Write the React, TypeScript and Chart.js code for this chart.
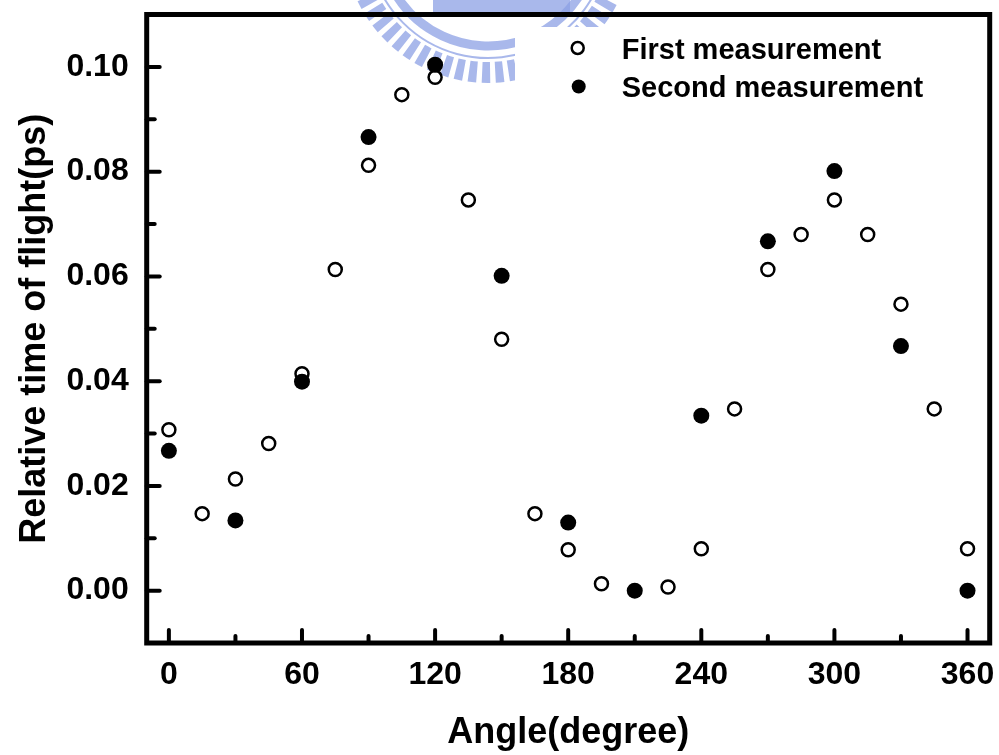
import React, { useEffect, useRef } from "react";
import { Chart, registerables } from "chart.js";

Chart.register(...registerables);

// ---- data ----
const firstAngles = [0, 15, 30, 45, 60, 75, 90, 105, 120, 135, 150, 165, 180, 195, 225, 240, 255, 270, 285, 300, 315, 330, 345, 360];
const firstValues = [0.0307, 0.0147, 0.0213, 0.0281, 0.0414, 0.0613, 0.0812, 0.0947, 0.098, 0.0746, 0.048, 0.0147, 0.0078, 0.0013, 0.0007, 0.008, 0.0347, 0.0613, 0.068, 0.0746, 0.068, 0.0547, 0.0347, 0.008];

const secondAngles = [0, 30, 60, 90, 120, 150, 180, 210, 240, 270, 300, 330, 360];
const secondValues = [0.0267, 0.0134, 0.0399, 0.0866, 0.1004, 0.0601, 0.013, 0.0, 0.0334, 0.0667, 0.0801, 0.0467, 0.0];

const seriesLabels = ["First measurement", "Second measurement"];

const xMajorTicks = [0, 60, 120, 180, 240, 300, 360];
const xMinorTicks = [30, 90, 150, 210, 270, 330];
const yMajorTicks = [0, 0.02, 0.04, 0.06, 0.08, 0.1];
const yMinorTicks = [0.01, 0.03, 0.05, 0.07, 0.09];

const xTitle = "Angle(degree)";
const yTitle = "Relative time of flight(ps)";

const FONT = "'Liberation Sans', Arial, Helvetica, sans-serif";

const watermarkPlugin = {
  id: "watermark",
  beforeDraw(chart: any) {
    const ctx = chart.ctx;
    ctx.save();
    ctx.beginPath();
    ctx.rect(0, 0, 515, 130);
    ctx.rect(515, 0, 200, 27);
    ctx.clip();
    ctx.fillStyle = "rgba(140,160,228,0.75)";
    ctx.strokeStyle = "rgba(140,160,228,0.75)";
    const cx = 488;
    const cy = -62;
    for (let deg = 18; deg <= 162; deg += 5.6) {
      const t = (deg * Math.PI) / 180;
      const hw = (1.7 * Math.PI) / 180;
      ctx.beginPath();
      ctx.arc(cx, cy, 145, t - hw, t + hw);
      ctx.arc(cx, cy, 124, t + hw, t - hw, true);
      ctx.closePath();
      ctx.fill();
    }
    ctx.lineWidth = 2;
    ctx.beginPath();
    ctx.arc(cx, cy, 120, (15 * Math.PI) / 180, (165 * Math.PI) / 180);
    ctx.stroke();
    ctx.lineWidth = 9;
    ctx.beginPath();
    ctx.arc(cx, cy, 108, (25 * Math.PI) / 180, (155 * Math.PI) / 180);
    ctx.stroke();
    ctx.fillRect(433, 0, 137, 15);
    ctx.restore();
  },
};

const framePlugin = {
  id: "frameTicks",
  beforeDatasetsDraw(chart: any) {
    const { ctx, chartArea: a, scales } = chart;
    const x = scales.x;
    const y = scales.y;
    ctx.save();
    ctx.strokeStyle = "#000";
    ctx.lineWidth = 4;
    ctx.lineCap = "round";
    const tick = (x1: number, y1: number, x2: number, y2: number) => {
      ctx.beginPath();
      ctx.moveTo(x1, y1);
      ctx.lineTo(x2, y2);
      ctx.stroke();
    };
    xMajorTicks.forEach((v) => {
      const px = x.getPixelForValue(v);
      tick(px, a.bottom, px, a.bottom - 13);
    });
    xMinorTicks.forEach((v) => {
      const px = x.getPixelForValue(v);
      tick(px, a.bottom, px, a.bottom - 7);
    });
    yMajorTicks.forEach((v) => {
      const py = y.getPixelForValue(v);
      tick(a.left, py, a.left + 13, py);
    });
    yMinorTicks.forEach((v) => {
      const py = y.getPixelForValue(v);
      tick(a.left, py, a.left + 8, py);
    });
    ctx.lineCap = "butt";
    ctx.lineJoin = "miter";
    ctx.lineWidth = 5;
    ctx.strokeRect(a.left, a.top, a.right - a.left, a.bottom - a.top);
    ctx.restore();
  },
  afterDatasetsDraw(chart: any) {
    const { ctx, chartArea: a } = chart;
    const ds = chart.data.datasets;
    const mx = a.right - 412;
    const tx = a.right - 368;
    const y0 = a.top + 33.5;
    const dy = 38.5;
    ctx.save();
    ctx.font = `bold 29px ${FONT}`;
    ctx.textBaseline = "alphabetic";
    ctx.textAlign = "left";
    ds.forEach((d: any, i: number) => {
      const my = y0 + i * dy;
      ctx.beginPath();
      if (i === 0) {
        ctx.arc(mx, my, 6, 0, Math.PI * 2);
        ctx.fillStyle = "#fff";
        ctx.fill();
        ctx.lineWidth = 2.5;
        ctx.strokeStyle = "#000";
        ctx.stroke();
      } else {
        ctx.arc(mx + 1, my, 7, 0, Math.PI * 2);
        ctx.fillStyle = "#000";
        ctx.fill();
      }
      ctx.fillStyle = "#000";
      ctx.fillText(d.label, tx, my + 10.5);
    });
    ctx.restore();
  },
};

export default function App() {
  const canvasRef = useRef<HTMLCanvasElement | null>(null);

  useEffect(() => {
    document.body.style.margin = "0";
    const canvas = canvasRef.current;
    if (!canvas) return;
    const chart = new Chart(canvas, {
      type: "scatter",
      data: {
        datasets: [
          {
            label: seriesLabels[0],
            data: firstAngles.map((a, i) => ({ x: a, y: firstValues[i] })),
            pointRadius: 6.5,
            pointHoverRadius: 6.5,
            pointBorderWidth: 2.5,
            borderColor: "#000",
            backgroundColor: "#fff",
            showLine: false,
            order: 1,
          },
          {
            label: seriesLabels[1],
            data: secondAngles.map((a, i) => ({ x: a, y: secondValues[i] })),
            pointRadius: 8,
            pointHoverRadius: 8,
            pointBorderWidth: 0,
            borderColor: "#000",
            backgroundColor: "#000",
            showLine: false,
            order: 0,
          },
        ],
      },
      options: {
        responsive: false,
        animation: false,
        devicePixelRatio: 1,
        layout: { padding: { top: 14.5, right: 9.3, left: 0, bottom: 0 } },
        plugins: {
          legend: { display: false },
          tooltip: { enabled: false },
        },
        scales: {
          x: {
            type: "linear",
            min: -10,
            max: 370,
            grid: { display: false, drawTicks: false },
            border: { display: false },
            afterBuildTicks: (scale: any) => {
              scale.ticks = xMajorTicks.map((v) => ({ value: v }));
            },
            afterFit: (scale: any) => {
              scale.height = 112;
              scale.paddingLeft = 0;
              scale.paddingRight = 0;
              scale.paddingTop = 0;
              scale.paddingBottom = 0;
            },
            ticks: {
              autoSkip: false,
              maxRotation: 0,
              padding: 13,
              color: "#000",
              font: { family: FONT, size: 32, weight: "bold" },
              callback: (v: any) => String(v),
            },
            title: {
              display: true,
              text: xTitle,
              color: "#000",
              font: { family: FONT, size: 36, weight: "bold" },
              padding: { top: 0, bottom: 0 },
            },
          },
          y: {
            type: "linear",
            min: -0.01,
            max: 0.11,
            grid: { display: false, drawTicks: false },
            border: { display: false },
            afterBuildTicks: (scale: any) => {
              scale.ticks = yMajorTicks.map((v) => ({ value: v }));
            },
            afterFit: (scale: any) => {
              scale.width = 146.7;
              scale.paddingLeft = 0;
              scale.paddingRight = 0;
              scale.paddingTop = 0;
              scale.paddingBottom = 0;
            },
            ticks: {
              autoSkip: false,
              padding: 18,
              color: "#000",
              font: { family: FONT, size: 32, weight: "bold" },
              callback: (v: any) => Number(v).toFixed(2),
            },
            title: {
              display: true,
              text: yTitle,
              color: "#000",
              font: { family: FONT, size: 36, weight: "bold" },
              padding: { top: 13, bottom: 0 },
            },
          },
        },
      },
      plugins: [watermarkPlugin, framePlugin],
    });
    return () => chart.destroy();
  }, []);

  return (
    <div style={{ position: "absolute", left: 0, top: 0, width: 999, height: 755, background: "#fff" }}>
      <canvas ref={canvasRef} width={999} height={755} style={{ width: 999, height: 755, display: "block" }} />
    </div>
  );
}
